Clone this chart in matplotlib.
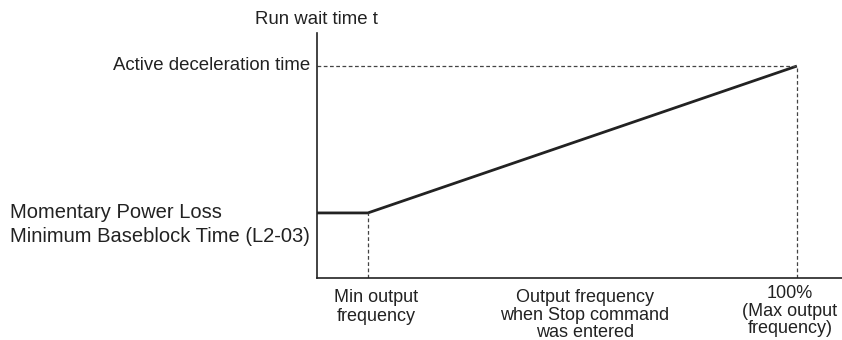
import matplotlib.pyplot as plt

plt.rcParams['font.family'] = ['Liberation Sans', 'DejaVu Sans']

# output frequency as a fraction of max, run wait time as a fraction of decel time
freq = [0.0, 0.106, 1.0]
wait = [0.307, 0.307, 1.0]
min_freq = 0.106
max_freq = 1.0
decel_time = 1.0
x_max = 1.094
y_max = 1.156

fig = plt.figure(figsize=(8.42, 3.40), dpi=100)
ax = fig.add_axes([317 / 842, 62 / 340, 525 / 842, 245 / 340])
ax.set_xlim(0, x_max)
ax.set_ylim(0, y_max)

for side in ['top', 'right']:
    ax.spines[side].set_visible(False)
for side in ['left', 'bottom']:
    ax.spines[side].set_linewidth(1.2)
    ax.spines[side].set_color('#222222')
ax.set_xticks([])
ax.set_yticks([])

ax.plot(freq, wait, color='#222222', lw=2.0, solid_capstyle='butt')

dash = dict(color='#444444', lw=0.9, ls=(0, (3, 2)))
ax.plot([0, max_freq], [decel_time, decel_time], **dash)
ax.plot([max_freq, max_freq], [0, decel_time], **dash)
ax.plot([min_freq, min_freq], [0, wait[1]], **dash)

tc = '#222222'
fig.text(316 / 842, 1 - 20 / 340, 'Run wait time t', ha='center', va='center', fontsize=13.4, color=tc)
fig.text(310 / 842, 1 - 66 / 340, 'Active deceleration time', ha='right', va='center', fontsize=13.4, color=tc)
fig.text(10 / 842, 1 - 212 / 340, 'Momentary Power Loss', ha='left', va='center', fontsize=14.5, color=tc)
fig.text(10 / 842, 1 - 237 / 340, 'Minimum Baseblock Time (L2-03)', ha='left', va='center', fontsize=14.5, color=tc)

fig.text(376 / 842, 1 - 307 / 340, 'Min output\nfrequency', ha='center', va='center',
         fontsize=13, color=tc, linespacing=1.08)
fig.text(585 / 842, 1 - 315 / 340, 'Output frequency\nwhen Stop command\nwas entered', ha='center', va='center',
         fontsize=13, color=tc, linespacing=1.04)
fig.text(790 / 842, 1 - 311 / 340, '100%\n(Max output\nfrequency)', ha='center', va='center',
         fontsize=13, color=tc, linespacing=1.06)

fig.savefig('out.png', dpi=100)
